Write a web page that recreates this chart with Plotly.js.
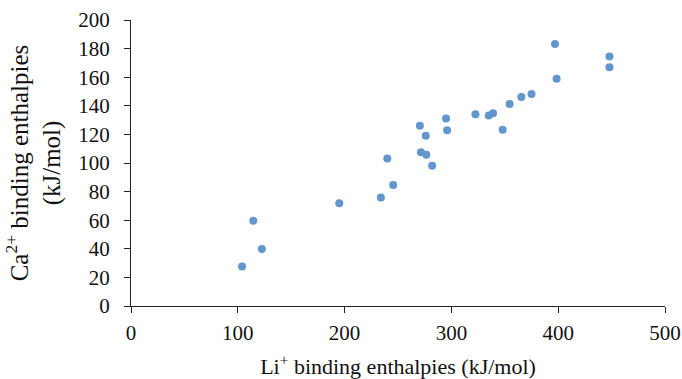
<!DOCTYPE html>
<html>
<head>
<meta charset="utf-8">
<script src="https://cdn.plot.ly/plotly-3.0.1.min.js"></script>
<style>html,body{margin:0;padding:0;background:#fff;}#chart{width:682px;height:379px;}</style>
</head>
<body>
<div id="chart"></div>
<script>
const liEnthalpy = [104, 114.5, 122.5, 195, 234, 240, 245.5, 270.5, 271.5, 276, 276.5, 282, 295, 296, 322.5, 335, 339, 348, 354.5, 365.5, 375, 397, 398.5, 448, 448];
const caEnthalpy = [27.7, 59.6, 39.8, 71.9, 75.9, 103.1, 84.7, 126, 107.6, 119, 105.7, 98, 131.1, 122.9, 134.1, 133.2, 134.8, 123.2, 141.3, 146.2, 148.3, 183.2, 159, 174.4, 166.9];
const xTicks = [0, 100, 200, 300, 400, 500];
const yTicks = [0, 20, 40, 60, 80, 100, 120, 140, 160, 180, 200];

const fam = 'Liberation Serif';
function mkFont(size) { return {family: fam, color: '#111', size: size}; }

Plotly.newPlot('chart', [{
  x: liEnthalpy, y: caEnthalpy, type: 'scatter', mode: 'markers',
  marker: {color: '#6396cc', size: 8}
}], {
  width: 682, height: 379,
  margin: {l: 131, r: 17, t: 20, b: 73},
  paper_bgcolor: '#fff', plot_bgcolor: '#fff',
  font: mkFont(21),
  showlegend: false,
  xaxis: {
    range: [0, 500], tickmode: 'array', tickvals: xTicks, ticktext: xTicks.map(String),
    showgrid: false, zeroline: false, showline: true, linecolor: '#222', linewidth: 1,
    ticks: 'outside', ticklen: 6, tickcolor: '#222',
    tickfont: mkFont(21), ticklabelstandoff: 2,
    title: {text: 'Li<sup>+</sup> binding enthalpies (kJ/mol)', font: mkFont(22), standoff: 15}
  },
  yaxis: {
    range: [0, 200], tickmode: 'array', tickvals: yTicks, ticktext: yTicks.map(String),
    showgrid: false, zeroline: false, showline: true, linecolor: '#222', linewidth: 1,
    ticks: 'outside', ticklen: 6, tickcolor: '#222',
    tickfont: mkFont(21), ticklabelstandoff: 10,
    title: {text: 'Ca<sup>2+</sup> binding enthalpies<br>(kJ/mol)', font: mkFont(25), standoff: 10}
  }
}, {staticPlot: true, displayModeBar: false});
</script>
</body>
</html>
